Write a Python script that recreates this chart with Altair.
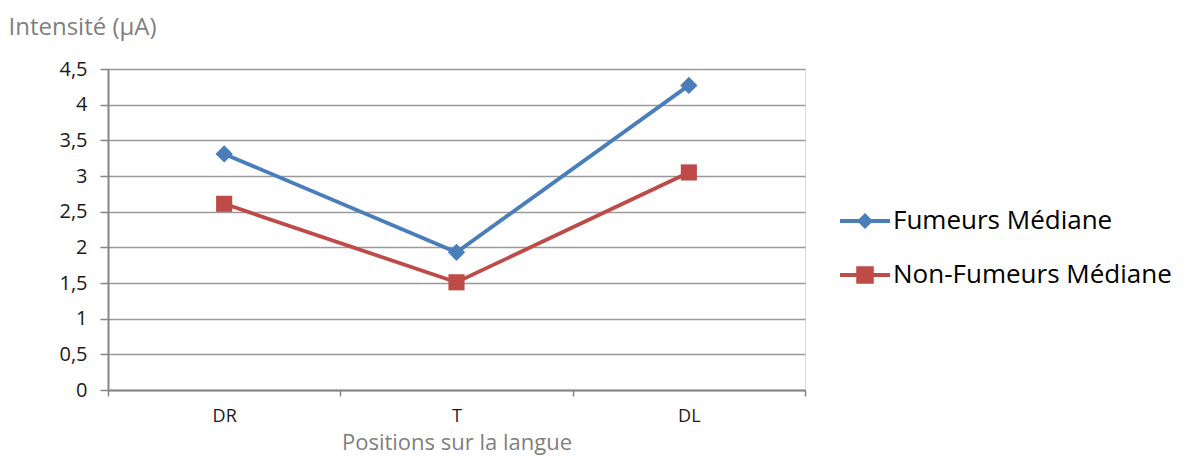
import altair as alt
import pandas as pd

categories = ["DR", "T", "DL"]
fumeurs = [3.31, 1.93, 4.27]
non_fumeurs = [2.61, 1.51, 3.05]
series_names = ["Fumeurs Médiane", "Non-Fumeurs Médiane"]
colors = ["#4a7ebb", "#be4b48"]
y_ticks = [0, 0.5, 1, 1.5, 2, 2.5, 3, 3.5, 4, 4.5]

rows = []
for name, vals in zip(series_names, [fumeurs, non_fumeurs]):
    for c, v in zip(categories, vals):
        rows.append({"pos": c, "val": v, "serie": name})
df = pd.DataFrame(rows)

FONT = "Open Sans"

x = alt.X("pos:N", sort=categories,
          scale=alt.Scale(type="band", paddingInner=0, paddingOuter=0),
          axis=alt.Axis(title="Positions sur la langue", labelAngle=0, tickBand="extent",
                        grid=False, domainColor="#868686", domainWidth=2,
                        tickColor="#868686", tickWidth=1.5, tickSize=6,
                        labelFont=FONT, labelFontSize=18, labelColor="#1a1a1a", labelPadding=11,
                        titleFont=FONT, titleFontSize=22, titleFontWeight="normal",
                        titleColor="#7f7f7f", titlePadding=7))
y = alt.Y("val:Q",
          scale=alt.Scale(domain=[0, 4.5], nice=False, zero=True),
          axis=alt.Axis(title="Intensité (µA)", values=y_ticks,
                        labelExpr="replace(format(datum.value, '~g'), '.', ',')",
                        grid=True, gridColor="#9a9a9a", gridWidth=1.5,
                        domainColor="#868686", domainWidth=2,
                        tickColor="#868686", tickWidth=1.5, tickSize=8,
                        labelFont=FONT, labelFontSize=20, labelColor="#1a1a1a", labelPadding=13,
                        titleFont=FONT, titleFontSize=24, titleFontWeight="normal",
                        titleColor="#7f7f7f", titleAngle=0, titleAlign="left",
                        titleBaseline="alphabetic", titleX=-100, titleY=-35))

base = alt.Chart(df)

layers = []
for name, col, shp, sz in zip(series_names, colors, ["diamond", "square"], [300, 260]):
    sub = base.transform_filter(alt.datum.serie == name)
    layers.append(sub.mark_line(strokeWidth=3.8, color=col).encode(x=x, y=y))
    layers.append(sub.mark_point(shape=shp, filled=True, size=sz, opacity=1, color=col).encode(x=x, y=y))

line_part = "M-1,-0.08H1V0.08H-1Z"
diamond_path = line_part + "M0,-0.32L0.32,0L0,0.32L-0.32,0Z"
square_path = line_part + "M-0.35,-0.35H0.35V0.35H-0.35Z"

leg = alt.Legend(title=None, orient="none", legendX=732, legendY=127,
                 symbolSize=2500, symbolOpacity=1, symbolStrokeWidth=0,
                 labelFont=FONT, labelFontSize=26, labelColor="#000000",
                 labelOffset=3, rowPadding=16, labelLimit=400)

legend_layer = base.mark_point(filled=True, size=2500, opacity=0).encode(
    x=x, y=y,
    color=alt.Color("serie:N", scale=alt.Scale(domain=series_names, range=colors), legend=leg),
    shape=alt.Shape("serie:N", scale=alt.Scale(domain=series_names,
                                               range=[diamond_path, square_path]),
                    legend=leg))
layers.append(legend_layer)

chart = alt.layer(*layers).properties(
    width=697, height=321,
    autosize=alt.AutoSizeParams(type="none"),
    padding={"left": 100, "top": 61, "right": 380, "bottom": 70},
).configure_view(stroke=None).configure(background="white")

chart.save("out.html", embed_options={"renderer": "svg", "actions": False})
